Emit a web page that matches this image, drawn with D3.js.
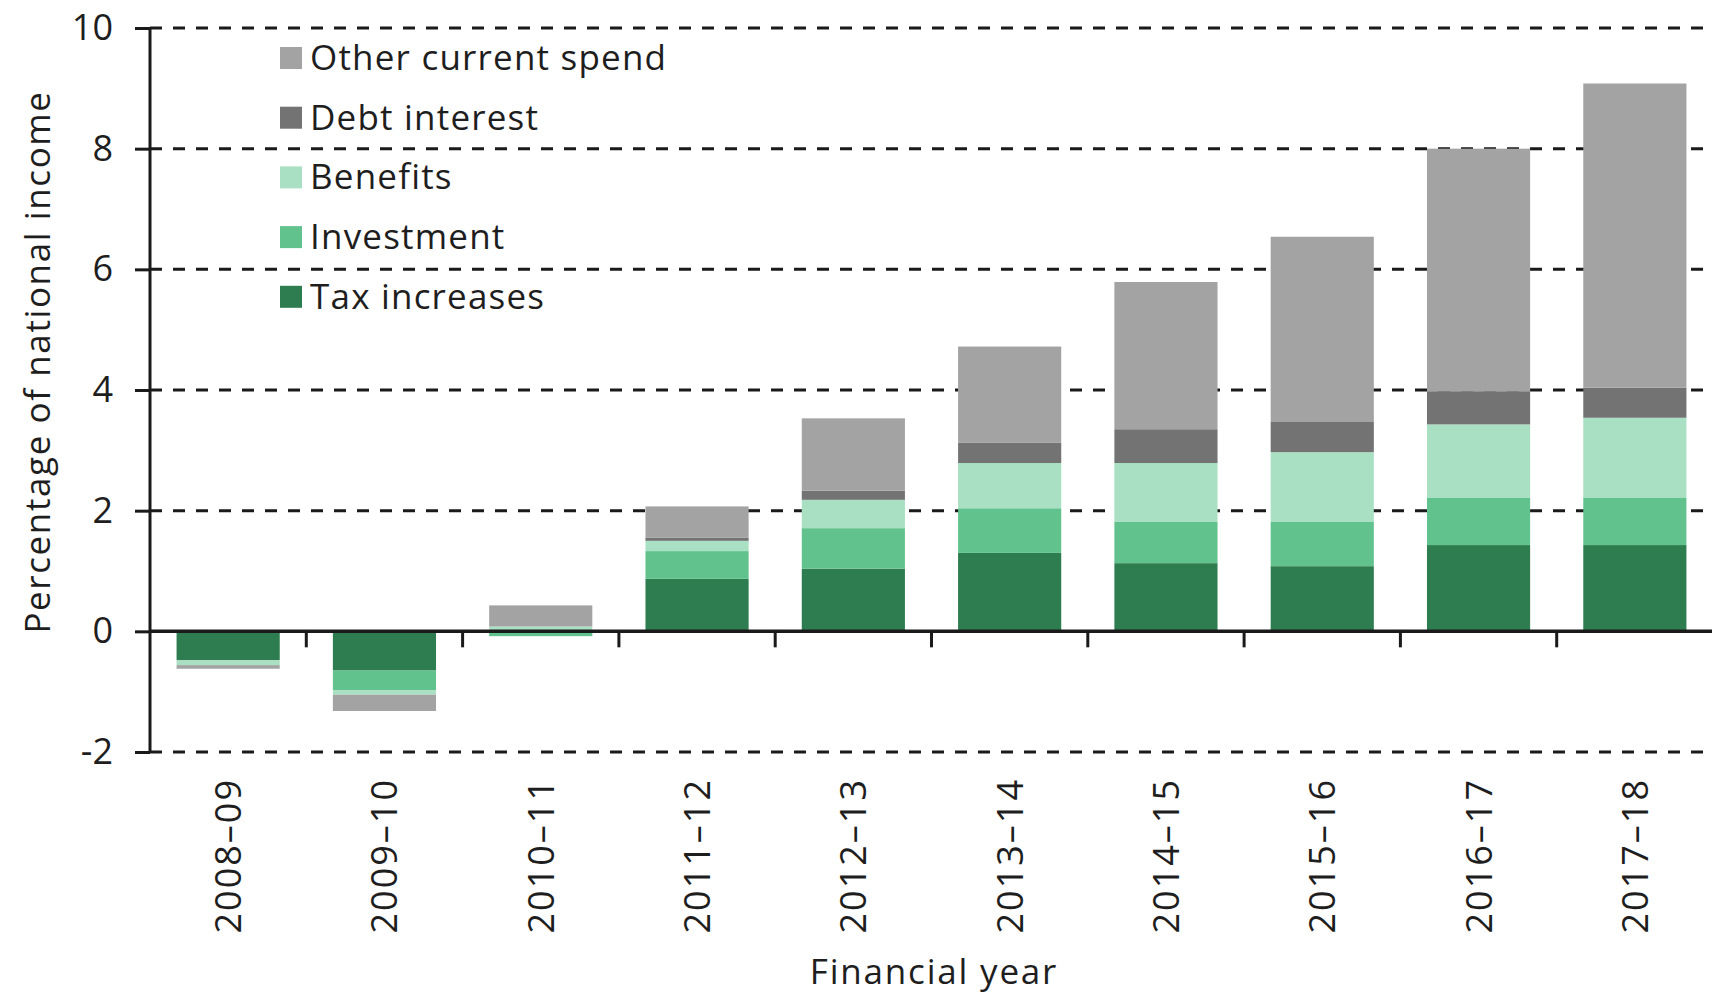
<!DOCTYPE html>
<html>
<head>
<meta charset="utf-8">
<script src="https://cdn.jsdelivr.net/npm/d3@7"></script>
<style>
  html, body { margin: 0; padding: 0; background: #fff; }
  svg { display: block; }
  text { font-family: "Open Sans", "Noto Sans", sans-serif; fill: #1e1e1e; }
</style>
</head>
<body>
<svg id="chart" width="1712" height="994"></svg>
<script>
// ---- Data ----
const years = ["2008–09", "2009–10", "2010–11", "2011–12", "2012–13", "2013–14", "2014–15", "2015–16", "2016–17", "2017–18"];
const taxIncreases  = [-0.48, -0.65, 0.00, 0.87, 1.04, 1.30, 1.13, 1.08, 1.43, 1.43];
const investment    = [ 0.00, -0.33, -0.08, 0.46, 0.67, 0.74, 0.69, 0.74, 0.78, 0.78];
const benefits      = [-0.08, -0.07, 0.08, 0.17, 0.47, 0.75, 0.97, 1.15, 1.22, 1.33];
const debtInterest  = [ 0.00, 0.00, 0.00, 0.05, 0.15, 0.34, 0.56, 0.50, 0.55, 0.50];
const otherCurrent  = [-0.06, -0.27, 0.35, 0.52, 1.20, 1.59, 2.44, 3.07, 4.02, 5.04];
const seriesNames = ["Tax increases", "Investment", "Benefits", "Debt interest", "Other current spend"];
const seriesColors = ["#2e7d50", "#62c28e", "#a9dfc2", "#737373", "#a3a3a3"];
const yTicks = [-2, 0, 2, 4, 6, 8, 10];
const yTickLabels = ["-2", "0", "2", "4", "6", "8", "10"];
const yTitle = "Percentage of national income";
const xTitle = "Financial year";

// ---- Build table ----
const seriesValues = [taxIncreases, investment, benefits, debtInterest, otherCurrent];
const table = years.map((y, i) => {
  const row = { year: y };
  seriesNames.forEach((n, k) => row[n] = seriesValues[k][i]);
  return row;
});

const svg = d3.select("#chart");
const x = d3.scaleBand().domain(years).range([150, 1713]).paddingInner(0.34).paddingOuter(0.17);
const y = d3.scaleLinear().domain([-2, 10]).range([752, 28]);
const color = d3.scaleOrdinal().domain(seriesNames).range(seriesColors);

// gridlines (dashed)
svg.append("g").selectAll("line").data(yTicks.filter(t => t !== 0)).join("line")
  .attr("x1", 150).attr("x2", 1712)
  .attr("y1", d => y(d)).attr("y2", d => y(d))
  .attr("stroke", "#1a1a1a").attr("stroke-width", 3)
  .attr("stroke-dasharray", "12,11");

// bars
const stack = d3.stack().keys(seriesNames).offset(d3.stackOffsetDiverging);
const stacked = stack(table);
svg.append("g").selectAll("g").data(stacked).join("g")
  .attr("fill", d => color(d.key))
  .selectAll("rect").data(d => d).join("rect")
  .attr("x", d => x(d.data.year))
  .attr("width", x.bandwidth())
  .attr("y", d => y(Math.max(d[0], d[1])))
  .attr("height", d => Math.abs(y(d[0]) - y(d[1])));

// y axis
const yAxis = d3.axisLeft(y).tickValues(yTicks).tickSize(15).tickPadding(22)
  .tickFormat((d, i) => yTickLabels[i]);
const gy = svg.append("g").attr("transform", "translate(150,0)").call(yAxis);
gy.select(".domain").attr("stroke", "#1a1a1a").attr("stroke-width", 3).attr("d", `M0,${y(10)}V${y(-2)}`);
gy.selectAll(".tick line").attr("stroke", "#1a1a1a").attr("stroke-width", 3);
gy.selectAll(".tick text").attr("font-size", 36).attr("font-family", "Open Sans, sans-serif").attr("fill", "#1e1e1e");

// zero line with boundary ticks
svg.append("line").attr("x1", 150).attr("x2", 1712).attr("y1", y(0)).attr("y2", y(0))
  .attr("stroke", "#1a1a1a").attr("stroke-width", 3.5);
const boundaries = years.slice(1).map(yr => x(yr) - x.step() * x.paddingInner() / 2);
svg.append("g").selectAll("line").data(boundaries).join("line")
  .attr("x1", d => d).attr("x2", d => d)
  .attr("y1", y(0)).attr("y2", y(0) + 16)
  .attr("stroke", "#1a1a1a").attr("stroke-width", 3);

// x labels (rotated)
svg.append("g").selectAll("text").data(years).join("text")
  .attr("transform", d => `translate(${x(d) + x.bandwidth() / 2 + 13},778) rotate(-90)`)
  .attr("text-anchor", "end")
  .attr("font-size", 36)
  .attr("letter-spacing", 2)
  .text(d => d);

// axis titles
svg.append("text")
  .attr("transform", `translate(50,362) rotate(-90)`)
  .attr("text-anchor", "middle").attr("font-size", 35)
  .attr("letter-spacing", 1.6)
  .text(yTitle);
svg.append("text")
  .attr("x", 934).attr("y", 984)
  .attr("text-anchor", "middle").attr("font-size", 35)
  .attr("letter-spacing", 1.8)
  .text(xTitle);

// legend
const legendOrder = seriesNames.slice().reverse();
const lg = svg.append("g").selectAll("g").data(legendOrder).join("g")
  .attr("transform", (d, i) => `translate(280,${58 + i * 59.7})`);
lg.append("rect").attr("x", 0).attr("y", -11).attr("width", 22).attr("height", 22)
  .attr("fill", d => color(d));
lg.append("text").attr("x", 30).attr("y", 12).attr("font-size", 35)
  .attr("letter-spacing", 1.2).text(d => d);
</script>
</body>
</html>
